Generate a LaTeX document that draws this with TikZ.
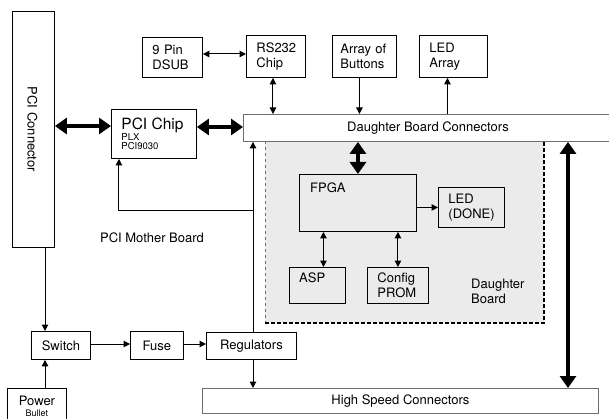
\documentclass[tikz,border=0pt]{standalone}
\usepackage{fontspec}
\setmainfont{TeX Gyre Heros}
\usetikzlibrary{arrows.meta, positioning}
\definecolor{dbshade}{RGB}{235,235,235}
\definecolor{edgegray}{RGB}{110,110,110}

\begin{document}
\begin{tikzpicture}[
    x=1pt, y=-1pt,
    font=\fontsize{13}{15}\selectfont,
    % Styles
    lbox/.style 2 args={
        draw, line width=0.9pt, anchor=north west,
        text width=#1, minimum height=#2,
        inner xsep=10pt, inner ysep=0pt, align=left
    },
    cbox/.style 2 args={
        draw, line width=0.9pt, anchor=north west,
        minimum width=#1, minimum height=#2, inner sep=0pt
    },
    tag/.style={anchor=north west, inner sep=0pt},
    arr/.style={line width=1pt, -{Triangle[length=6.5pt,width=6.5pt]}},
    darr/.style={line width=1pt, {Triangle[length=6.5pt,width=6.5pt]}-{Triangle[length=6.5pt,width=6.5pt]}},
    bus/.style={line width=4.5pt, {Triangle[length=12pt,width=16pt]}-{Triangle[length=12pt,width=16pt]}}
]
\useasboundingbox (0,0) rectangle (609,419);

% Daughter board area
\fill[dbshade] (265,141) rectangle (544,323);
\draw[edgegray, dashed, line width=0.5pt] (265,141) -- (265,323);
\draw[line width=2pt, dash pattern=on 4pt off 2pt] (265,323) -- (544,323) -- (544,141);

% Mother board side
\node[cbox={42}{236}] (pcicon) at (12,11) {};
\node[rotate=-90] at ([xshift=-1pt]pcicon.center) {PCI Connector};
\node[lbox={65}{49}] (pcichip) at (111,109) {{\fontsize{15.5}{17}\selectfont PCI Chip\par}{\fontsize{9.5}{9}\selectfont PLX\\PCI9030\par}};
\node[lbox={40}{40}] (dsub) at (142,37) {9 Pin\\DSUB};
\node[lbox={39}{42}] (rs232) at (246,35) {RS232\\Chip};
\node[lbox={48}{42}, inner xsep=8pt] (buttons) at (332,35) {Array of\\Buttons};
\node[lbox={48}{42}] (ledarr) at (419,35) {LED\\Array};
\node[cbox={372}{27}, draw=edgegray] (dbc) at (243,114) {\hspace*{-3pt}Daughter Board Connectors};
\node at (152,238) (mblabel) {PCI Mother Board};

% Daughter board parts
\node[cbox={117}{57}] (fpga) at (299,174) {};
\node[tag] at ([shift={(11,9)}]fpga.north west) {FPGA};
\node[lbox={46}{40}] (leddone) at (438,187) {LED\\(DONE)};
\node[cbox={56}{36}] (asp) at (289,267) {};
\node[tag] at ([shift={(10,6)}]asp.north west) {ASP};
\node[lbox={41}{36}] (prom) at (367,267) {Config\\PROM};
\node[tag, align=left] (dblabel) at (471,279) {Daughter\\Board};

% Power path
\node[cbox={59}{28}] (switch) at (31,331) {Switch};
\node[cbox={53}{28}] (fuse) at (130,331) {Fuse};
\node[cbox={90}{27}] (regs) at (206,332) {Regulators};
\node[cbox={59}{35}, align=center] (power) at (7,388) {Power\\[-4pt]\fontsize{9}{9}\selectfont Bullet};
\node[cbox={396}{25}, draw=edgegray] (hsc) at (202,388) {High Speed Connectors};

% Helper points
\coordinate (pw) at (45,0);
\coordinate (vr) at (253,0);
\coordinate (tap) at (253,211);
\coordinate (hsr) at (568,0);

% Buses
\draw[bus] (pcicon.east |- 0,126) -- (pcichip.west |- 0,126);
\draw[bus] (pcichip.east |- 0,127) -- (dbc.west |- 0,127);
\draw[bus] (fpga.north) -- (fpga.north |- dbc.south);
\draw[bus] (dbc.south -| hsr) -- (hsc.north -| hsr);

% Signals
\draw[darr] (dsub.east |- 0,54) -- (rs232.west |- 0,54);
\draw[darr] ([xshift=-3pt]rs232.south) -- ([xshift=-3pt]rs232.south |- dbc.north);
\draw[arr] ([xshift=-5pt]buttons.south) -- ([xshift=-5pt]buttons.south |- dbc.north);
\draw[arr] ([xshift=-6pt]ledarr.south |- dbc.north) -- ([xshift=-6pt]ledarr.south);
\draw[arr] (fpga.east |- leddone.west) -- (leddone.west);
\draw[darr] ([xshift=6pt]asp.north |- fpga.south) -- ([xshift=6pt]asp.north);
\draw[darr] (prom.north |- fpga.south) -- (prom.north);

% Power lines
\draw[arr] (regs.north -| vr) -- (dbc.south -| vr);
\draw[arr] (tap) -| ([xshift=-35pt]pcichip.south);
\draw[arr] (regs.south -| vr) -- (hsc.north -| vr);
\draw[arr] (pcicon.south -| pw) -- (switch.north -| pw);
\draw[arr] (power.north -| pw) -- (switch.south -| pw);
\draw[arr] (switch.east |- 0,344) -- (fuse.west |- 0,344);
\draw[arr] (fuse.east |- 0,344) -- (regs.west |- 0,344);

\end{tikzpicture}
\end{document}
